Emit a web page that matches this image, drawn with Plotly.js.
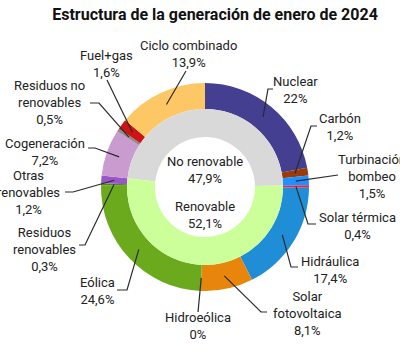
<!DOCTYPE html>
<html>
<head>
<meta charset="utf-8">
<script src="https://cdn.plot.ly/plotly-3.0.1.min.js"></script>
<style>html,body{margin:0;padding:0;background:#fff;}#chart{width:400px;height:350px;}</style>
</head>
<body>
<div id="chart"></div>
<script>
// ---- data ----
var outerLabels = ["Nuclear", "Carbón", "Turbinación bombeo", "Solar térmica", "Hidráulica",
  "Solar fotovoltaica", "Hidroeólica", "Eólica", "Residuos renovables", "Otras renovables",
  "Cogeneración", "Residuos no renovables", "Fuel+gas", "Ciclo combinado"];
var outerValues = [22, 1.2, 1.5, 0.4, 17.4, 8.1, 0, 24.6, 0.3, 1.2, 7.2, 0.5, 1.6, 13.9];
var outerText = ["Nuclear<br>22%", "Carbón<br>1,2%", "Turbinación<br>bombeo<br>1,5%",
  "Solar térmica<br>0,4%", "Hidráulica<br>17,4%", "Solar<br>fotovoltaica<br>8,1%",
  "Hidroeólica<br>0%", "Eólica<br>24,6%", "Residuos<br>renovables<br>0,3%",
  "Otras<br>renovables<br>1,2%", "Cogeneración<br>7,2%", "Residuos no<br>renovables<br>0,5%",
  "Fuel+gas<br>1,6%", "Ciclo combinado<br>13,9%"];
var innerLabels = ["No renovable", "Renovable"];
var innerValues = [47.9, 52.1];
var innerText = ["No renovable<br>47,9%", "Renovable<br>52,1%"];
var firstNonRenewable = "Cogeneración";

// ---- styles / layout positions ----
var outerColors = ["#443f91", "#9c3a08", "#1e90ff", "#e8244c", "#1f8ed6", "#e8850b", "#b5d96b",
  "#6aaa1c", "#4f8a14", "#9a55c8", "#c99bcf", "#8c8c8c", "#cc1417", "#fdc765"];
var innerColors = ["#d9d9d9", "#ccff99"];
var W = 400, H = 350;
var cx = 205, cy = 187, R = 104, Rmid = 78, Rhole = 50, Rline = 91;
// label centers (px) and leader-line elbow/tail points (px), per outer label
var labelPos = [[295, 90], [340, 127], [372, 176], [357, 226], [330, 270], [307, 313], [198, 326],
  [97, 291], [44, 249], [28, 193], [45, 152], [49, 103], [106, 64], [188, 54]];
var leaderPts = [
  [[273, 89], [268, 89]],
  [[317, 126], [311, 126]],
  [[338, 175]],
  [[316, 224], [308, 224]],
  [[298, 267], [291, 267]],
  [[267, 312], [261, 312]],
  [[198, 312]],
  [[117, 290], [127, 290]],
  [[79, 245], [85, 245]],
  [[65, 192], [73, 192]],
  [[88, 148], [95, 148]],
  [[90, 103], [99, 103]],
  [[107, 80]],
  [[186, 71]]
];
var innerLabelPos = [[205, 170], [205, 215]];

function px2x(p) { return p / W; }
function py2y(p) { return 1 - p / H; }

var total = outerValues.reduce(function (a, b) { return a + b; }, 0);
var idxNR = outerLabels.indexOf(firstNonRenewable);
var cumBefore = 0;
for (var i = 0; i < idxNR; i++) cumBefore += outerValues[i];
var innerRotation = cumBefore / total * 360;

var traces = [
  {
    type: "pie", labels: outerLabels, values: outerValues, sort: false, direction: "clockwise",
    rotation: 0, hole: Rmid / R, textinfo: "none", hoverinfo: "label+value",
    marker: { colors: outerColors, line: { width: 0 } },
    domain: { x: [px2x(cx - R), px2x(cx + R)], y: [py2y(cy + R), py2y(cy - R)] },
    showlegend: false
  },
  {
    type: "pie", labels: innerLabels, values: innerValues, sort: false, direction: "clockwise",
    rotation: innerRotation, hole: Rhole / Rmid, textinfo: "none", hoverinfo: "label+value",
    marker: { colors: innerColors, line: { width: 0 } },
    domain: { x: [px2x(cx - Rmid), px2x(cx + Rmid)], y: [py2y(cy + Rmid), py2y(cy - Rmid)] },
    showlegend: false
  }
];

var font = { family: "Roboto, 'Noto Sans', sans-serif", size: 13, color: "#222" };
var annotations = [];
var shapes = [];
var cum = 0;
for (var k = 0; k < outerValues.length; k++) {
  var mid = (cum + outerValues[k] / 2) / total * 2 * Math.PI;
  cum += outerValues[k];
  var sx = cx + Rline * Math.sin(mid), sy = cy - Rline * Math.cos(mid);
  var pts = leaderPts[k].concat([[sx, sy]]);
  var path = "M" + px2x(pts[0][0]) + "," + py2y(pts[0][1]);
  for (var j = 1; j < pts.length; j++) path += " L" + px2x(pts[j][0]) + "," + py2y(pts[j][1]);
  shapes.push({ type: "path", xref: "paper", yref: "paper", path: path,
    line: { color: "#2a2a2a", width: 1.2 } });
  annotations.push({ text: outerText[k], x: px2x(labelPos[k][0]), y: py2y(labelPos[k][1]),
    xref: "paper", yref: "paper", xanchor: "center", yanchor: "middle", showarrow: false, font: font });
}
for (var m = 0; m < innerText.length; m++) {
  annotations.push({ text: innerText[m], x: px2x(innerLabelPos[m][0]), y: py2y(innerLabelPos[m][1]),
    xref: "paper", yref: "paper", xanchor: "center", yanchor: "middle", showarrow: false, font: font });
}

var layout = {
  width: W, height: H,
  margin: { l: 0, r: 0, t: 0, b: 0 },
  paper_bgcolor: "#ffffff",
  title: { text: "<b>Estructura de la generación de enero de 2024</b>",
    x: 215 / W, xanchor: "center", xref: "paper", y: 1 - 14 / H, yref: "container", yanchor: "middle",
    font: { family: "Roboto, sans-serif", size: 16, color: "#111" } },
  annotations: annotations,
  shapes: shapes
};

Plotly.newPlot("chart", traces, layout, { displayModeBar: false, staticPlot: true });
</script>
</body>
</html>
